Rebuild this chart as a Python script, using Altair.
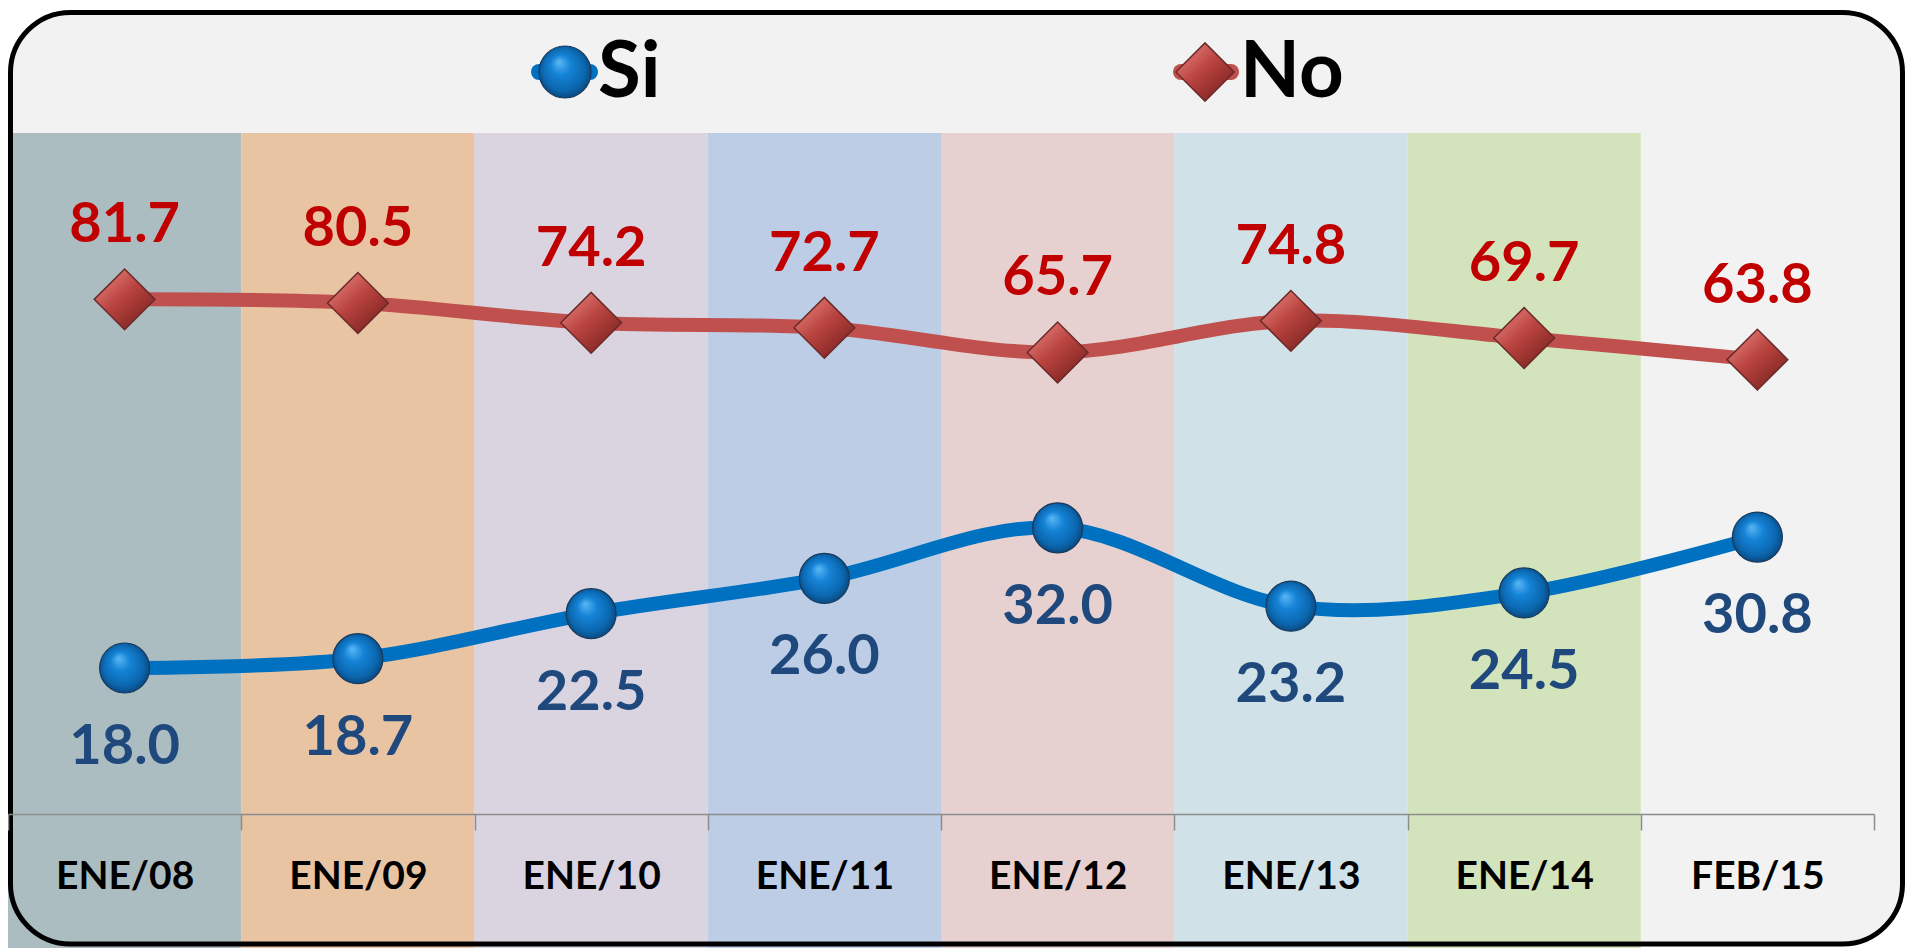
import json
import altair as alt
import pandas as pd

# ---------------- data ----------------
CATS = ["Ene/08", "Ene/09", "Ene/10", "Ene/11", "Ene/12", "Ene/13", "Ene/14", "Feb/15"]
SI = [18.0, 18.7, 22.5, 26.0, 32.0, 23.2, 24.5, 30.8]
NO = [81.7, 80.5, 74.2, 72.7, 65.7, 74.8, 69.7, 63.8]
SERIES = ["Si", "No"]
BAND_COLORS = ["#acbdc2", "#e8c4a3", "#dad4e1", "#bccde5", "#e7d1d0", "#d1e1e8", "#d3e4bd", None]

# ---------------- layout / style ----------------
W, H = 1866, 681
FONT = "Lato"
SI_COLOR = "#0070c0"
NO_COLOR = "#c0504d"

rows = []
for i, c in enumerate(CATS):
    rows.append(dict(cat=c, pos=i + 0.5, value=SI[i], series=SERIES[0], label=f"{SI[i]:.1f}"))
    rows.append(dict(cat=c, pos=i + 0.5, value=NO[i], series=SERIES[1], label=f"{NO[i]:.1f}"))
df = pd.DataFrame(rows)

bands = pd.DataFrame(
    [dict(cat=c, x0=i, x1=i + 1, color=col) for i, (c, col) in enumerate(zip(CATS, BAND_COLORS)) if col]
)

xscale = alt.Scale(domain=[0, len(CATS)], nice=False, zero=False)
yscale = alt.Scale(type="log", domain=[9.888, 161.7], nice=False, zero=False)

tick_vals = [i * 0.5 for i in range(2 * len(CATS) + 1)]
label_expr = (
    "datum.value % 1 == 0.5 ? upper(" + json.dumps(CATS) + "[floor(datum.value)]) : ''"
)
xaxis = alt.Axis(
    values=tick_vals,
    labelExpr=label_expr,
    title=None,
    grid=False,
    domainColor="#8c8c8c",
    domainWidth=1.5,
    tickColor="#8c8c8c",
    tickWidth=1.5,
    tickSize=16,
    tickOpacity={"condition": {"test": "datum.value % 1 == 0", "value": 1}, "value": 0},
    labelFont=FONT,
    labelFontSize=39,
    labelFontWeight="bold",
    labelColor="black",
    labelPadding=58,
    labelBaseline="alphabetic",
    labelAngle=0,
    labelOverlap=False,
    labelFlush=False,
    labelBound=False,
    zindex=1,
)

one = pd.DataFrame({"k": [0]})

BX0, BX1, BY0, BY1 = 2.5, 1894.5, -120.5, 811

# background card (fill) and border
card = alt.Chart(one).mark_rect(fill="#f2f2f2", cornerRadius=60).encode(
    x=alt.value(BX0), x2=alt.value(BX1), y=alt.value(BY0), y2=alt.value(BY1)
)
border = alt.Chart(one).mark_rect(
    fillOpacity=0, stroke="black", strokeWidth=5, cornerRadius=60
).encode(x=alt.value(BX0), x2=alt.value(BX1), y=alt.value(BY0), y2=alt.value(BY1))

band_layer = alt.Chart(bands).mark_rect().encode(
    x=alt.X("x0:Q", scale=xscale, axis=xaxis),
    x2="x1:Q",
    y=alt.value(0),
    y2=alt.value(815),
    color=alt.Color("color:N", scale=None),
)

base = alt.Chart(df).encode(
    x=alt.X("pos:Q", scale=xscale, axis=xaxis),
    y=alt.Y("value:Q", scale=yscale, axis=None),
)

si_grad = alt.RadialGradient(
    gradient="radial",
    x1=0.38, y1=0.3, r1=0.0,
    x2=0.5, y2=0.5, r2=0.55,
    stops=[
        alt.GradientStop(offset=0.0, color="#5ab8f5"),
        alt.GradientStop(offset=0.35, color="#1583d6"),
        alt.GradientStop(offset=0.75, color="#0b66ae"),
        alt.GradientStop(offset=1.0, color="#0a3f70"),
    ],
)
no_grad = alt.LinearGradient(
    gradient="linear",
    x1=0.15, y1=0.1, x2=0.85, y2=0.9,
    stops=[
        alt.GradientStop(offset=0.0, color="#e27a75"),
        alt.GradientStop(offset=0.45, color="#b9433f"),
        alt.GradientStop(offset=1.0, color="#7e2421"),
    ],
)

si_f = alt.datum.series == SERIES[0]
no_f = alt.datum.series == SERIES[1]

si_line = base.transform_filter(si_f).mark_line(
    interpolate="cardinal", strokeWidth=14, color=SI_COLOR
)
no_line = base.transform_filter(no_f).mark_line(
    interpolate="cardinal", strokeWidth=14, color=NO_COLOR
)
si_pts = base.transform_filter(si_f).mark_point(
    shape="circle", size=2500, filled=True, fill=si_grad, stroke="#17395c",
    strokeWidth=1.2, opacity=1
)
no_pts = base.transform_filter(no_f).mark_point(
    shape="diamond", size=3700, filled=True, fill=no_grad, stroke="#6a2a2a",
    strokeWidth=1.5, opacity=1
)
si_txt = base.transform_filter(si_f).mark_text(
    dy=96, baseline="alphabetic", align="center", font=FONT, fontSize=56,
    fontWeight="bold", color="#1f497d"
).encode(text="label:N")
no_txt = base.transform_filter(no_f).mark_text(
    dy=-57, baseline="alphabetic", align="center", font=FONT, fontSize=56,
    fontWeight="bold", color="#c00000"
).encode(text="label:N")

# legend (manual, above plot)
leg_si_df = pd.DataFrame({"s": [SERIES[0]]})
leg_no_df = pd.DataFrame({"s": [SERIES[1]]})
leg_si_line = alt.Chart(leg_si_df).mark_rule(strokeWidth=16, strokeCap="round", color=SI_COLOR).encode(
    x=alt.value(531), x2=alt.value(582), y=alt.value(-61)
)
leg_si_pt = alt.Chart(leg_si_df).mark_point(
    shape="circle", size=2700, filled=True, fill=si_grad, stroke="#17395c", strokeWidth=1.2, opacity=1
).encode(x=alt.value(557), y=alt.value(-61))
leg_si_txt = alt.Chart(leg_si_df).mark_text(
    align="left", baseline="alphabetic", font=FONT, fontSize=78, fontWeight="bold", color="black"
).encode(x=alt.value(590), y=alt.value(-36), text="s:N")
leg_no_line = alt.Chart(leg_no_df).mark_rule(strokeWidth=16, strokeCap="round", color=NO_COLOR).encode(
    x=alt.value(1173), x2=alt.value(1223), y=alt.value(-61)
)
leg_no_pt = alt.Chart(leg_no_df).mark_point(
    shape="diamond", size=3400, filled=True, fill=no_grad, stroke="#6a2a2a", strokeWidth=1.5, opacity=1
).encode(x=alt.value(1197), y=alt.value(-61))
leg_no_txt = alt.Chart(leg_no_df).mark_text(
    align="left", baseline="alphabetic", font=FONT, fontSize=78, fontWeight="bold", color="black"
).encode(x=alt.value(1232), y=alt.value(-36), text="s:N")

chart = (
    alt.layer(
        card, band_layer, border,
        si_line, no_line, si_pts, no_pts, si_txt, no_txt,
        leg_si_line, leg_si_pt, leg_si_txt, leg_no_line, leg_no_pt, leg_no_txt,
    )
    .properties(
        width=W,
        height=H,
        autosize=alt.AutoSizeParams(type="none"),
        padding={"left": 0, "top": 125, "right": 31, "bottom": 134},
        background="white",
    )
    .configure_view(stroke=None)
)

chart.save("out.html", embed_options={"renderer": "svg", "actions": False})
